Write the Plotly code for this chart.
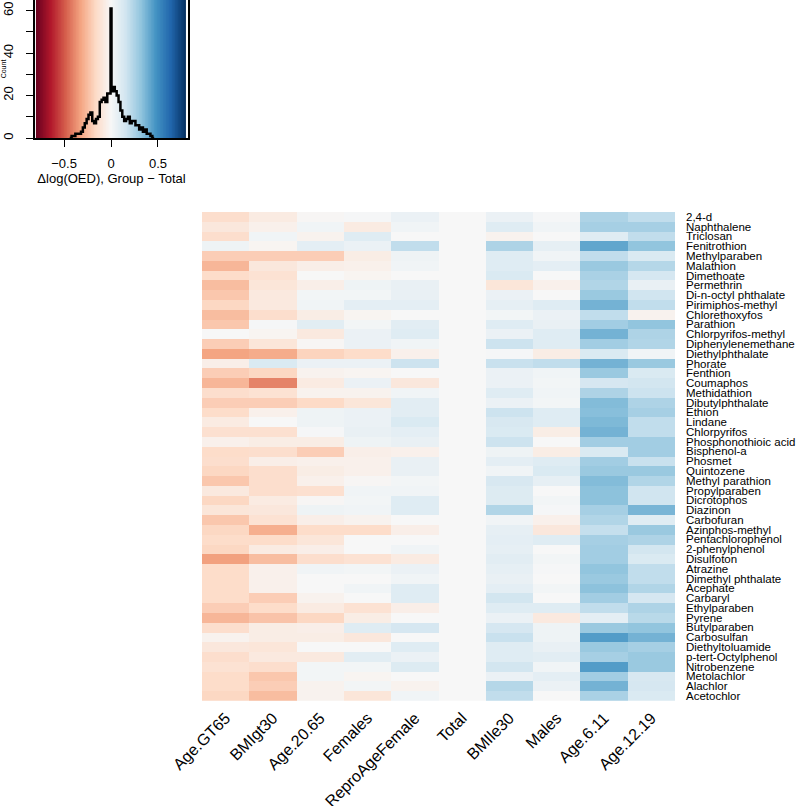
import numpy as np
import plotly.graph_objects as go

groups = ["Age.GT65", "BMIgt30", "Age.20.65", "Females", "ReproAgeFemale",
          "Total", "BMIle30", "Males", "Age.6.11", "Age.12.19"]

chemicals = ["2,4-d", "Naphthalene", "Triclosan", "Fenitrothion", "Methylparaben",
             "Malathion", "Dimethoate", "Permethrin", "Di-n-octyl phthalate",
             "Pirimiphos-methyl", "Chlorethoxyfos", "Parathion", "Chlorpyrifos-methyl",
             "Diphenylenemethane", "Diethylphthalate", "Phorate", "Fenthion", "Coumaphos",
             "Methidathion", "Dibutylphthalate", "Ethion", "Lindane", "Chlorpyrifos",
             "Phosphonothioic acid", "Bisphenol-a", "Phosmet", "Quintozene",
             "Methyl parathion", "Propylparaben", "Dicrotophos", "Diazinon", "Carbofuran",
             "Azinphos-methyl", "Pentachlorophenol", "2-phenylphenol", "Disulfoton",
             "Atrazine", "Dimethyl phthalate", "Acephate", "Carbaryl", "Ethylparaben",
             "Pyrene", "Butylparaben", "Carbosulfan", "Diethyltoluamide",
             "p-tert-Octylphenol", "Nitrobenzene", "Metolachlor", "Alachlor", "Acetochlor"]

age_gt65 = [-0.14, -0.09, -0.14, 0.04, -0.20, -0.27, -0.15, -0.25, -0.22, -0.17,
            -0.25, -0.22, 0.00, -0.20, -0.32, -0.05, -0.20, -0.27, -0.14, -0.20,
            -0.15, -0.07, -0.13, -0.04, -0.15, -0.14, -0.17, -0.22, -0.08, -0.17,
            -0.10, -0.22, -0.17, -0.15, -0.17, -0.33, -0.15, -0.15, -0.15, -0.15,
            -0.20, -0.27, -0.14, -0.03, -0.09, -0.14, -0.12, -0.15, -0.15, -0.17]
bmi_gt30 = [-0.07, -0.04, 0.03, -0.02, -0.20, -0.09, -0.12, -0.10, -0.08, -0.08,
            -0.14, 0.01, -0.02, -0.10, -0.30, 0.12, -0.17, -0.40, -0.12, -0.20,
            -0.04, 0.00, -0.13, -0.06, -0.14, -0.05, -0.14, -0.14, -0.14, -0.07,
            -0.09, -0.12, -0.29, -0.15, -0.07, -0.25, -0.04, -0.04, -0.04, -0.20,
            -0.15, -0.23, -0.06, -0.06, -0.10, -0.08, -0.14, -0.22, -0.20, -0.25]
age_20_65 = [-0.01, 0.03, -0.03, 0.08, -0.20, -0.05, 0.00, -0.05, 0.02, 0.03,
             -0.06, 0.09, -0.08, -0.01, -0.18, 0.05, -0.03, -0.07, -0.03, -0.16,
             0.04, 0.04, 0.01, -0.06, -0.20, -0.04, -0.06, -0.04, -0.13, -0.01,
             0.04, -0.05, -0.15, -0.10, -0.05, -0.14, 0.03, 0.00, 0.00, -0.03,
             -0.07, -0.17, -0.05, -0.06, 0.00, -0.08, 0.02, 0.02, -0.03, -0.03]
females = [0.01, -0.07, 0.10, 0.05, -0.06, -0.04, -0.02, 0.04, 0.02, 0.08,
           -0.02, 0.02, 0.05, 0.05, -0.15, 0.05, -0.02, 0.05, -0.03, -0.10,
           0.05, 0.05, 0.06, 0.04, -0.05, -0.04, -0.04, -0.01, 0.03, 0.02,
           0.03, -0.03, -0.15, 0.00, 0.00, -0.12, 0.02, 0.00, 0.03, 0.00,
           -0.12, -0.06, 0.10, -0.09, 0.00, 0.09, 0.02, -0.02, 0.02, -0.10]
repro_age_female = [0.05, 0.03, 0.00, 0.20, 0.04, 0.03, 0.00, 0.06, 0.06, 0.08,
                    0.00, 0.09, 0.10, 0.03, -0.04, 0.17, 0.00, -0.09, 0.03, 0.09,
                    0.09, 0.12, 0.08, 0.06, -0.04, 0.06, 0.06, 0.02, 0.03, 0.10,
                    0.10, 0.00, -0.05, 0.00, 0.03, -0.07, 0.05, 0.03, 0.10, 0.10,
                    -0.05, 0.00, 0.14, 0.00, 0.10, 0.05, 0.11, 0.00, -0.03, 0.03]
total = [0.0] * 50
bmi_le30 = [0.05, 0.10, -0.03, 0.25, 0.10, 0.10, 0.12, -0.10, 0.05, 0.07,
            0.02, 0.10, 0.05, 0.17, 0.01, 0.18, 0.05, 0.05, 0.10, 0.05,
            0.17, 0.13, 0.12, 0.17, 0.04, 0.08, 0.03, 0.13, 0.11, 0.11,
            0.24, 0.03, 0.07, 0.08, 0.07, 0.09, 0.07, 0.06, 0.08, 0.15,
            0.10, 0.05, 0.14, 0.18, 0.10, 0.10, 0.15, 0.05, 0.23, 0.20]
males = [0.01, 0.03, 0.00, 0.07, 0.03, 0.08, 0.00, -0.04, 0.00, 0.10,
         0.05, 0.06, 0.10, 0.10, -0.06, 0.20, 0.03, 0.02, 0.03, 0.02,
         0.10, 0.10, -0.06, 0.00, -0.06, 0.10, 0.12, 0.07, 0.00, 0.02,
         0.01, -0.04, -0.09, 0.10, 0.00, 0.02, 0.01, 0.00, 0.02, 0.00,
         0.10, -0.08, 0.04, 0.04, 0.06, 0.09, 0.03, 0.08, 0.05, 0.00]
age_6_11 = [0.25, 0.27, 0.10, 0.42, 0.20, 0.30, 0.26, 0.24, 0.30, 0.38,
            0.20, 0.28, 0.38, 0.28, 0.12, 0.38, 0.30, 0.14, 0.25, 0.35,
            0.34, 0.36, 0.38, 0.28, 0.12, 0.28, 0.30, 0.35, 0.33, 0.33,
            0.27, 0.24, 0.19, 0.27, 0.28, 0.28, 0.32, 0.30, 0.33, 0.28,
            0.20, 0.08, 0.30, 0.45, 0.30, 0.27, 0.45, 0.28, 0.38, 0.26]
age_12_19 = [0.20, 0.27, 0.20, 0.32, 0.12, 0.23, 0.14, 0.06, 0.16, 0.20,
             -0.03, 0.32, 0.25, 0.24, 0.03, 0.30, 0.12, 0.15, 0.17, 0.25,
             0.27, 0.20, 0.20, 0.28, 0.28, 0.18, 0.30, 0.24, 0.16, 0.16,
             0.37, 0.10, 0.30, 0.25, 0.15, 0.12, 0.20, 0.20, 0.24, 0.14,
             0.25, 0.22, 0.32, 0.38, 0.27, 0.30, 0.30, 0.13, 0.14, 0.12]

# Histogram in the colour key (step outline)
hist_x = [-0.44, -0.42, -0.40, -0.38, -0.36, -0.34, -0.32, -0.30, -0.28, -0.26,
          -0.24, -0.22, -0.20, -0.18, -0.16, -0.14, -0.12, -0.10, -0.08, -0.06,
          -0.04, -0.02, -0.005, 0.005, 0.02, 0.04, 0.06, 0.08, 0.10, 0.12,
          0.14, 0.16, 0.18, 0.20, 0.22, 0.24, 0.26, 0.28, 0.30, 0.32,
          0.34, 0.36, 0.38, 0.40, 0.42, 0.44, 0.46]
hist_counts = [0, 1, 1, 2, 2, 2, 3, 5, 7, 9,
               11, 12, 8, 7, 9, 10, 17, 18, 19, 17,
               21, 21, 61, 22, 24, 22, 20, 17, 13, 10,
               8, 9, 10, 7, 8, 8, 6, 6, 4, 5,
               3, 4, 2, 2, 1, 0, 0]

key_ticks = [-0.5, 0, 0.5]
key_ticktext = ["\u22120.5", "0", "0.5"]
count_ticks = [0, 10, 20, 30, 40, 50, 60]
count_ticktext = ["0", "", "20", "", "40", "", "60"]

rdbu = ["#67001F", "#B2182B", "#D6604D", "#F4A582", "#FDDBC7", "#F7F7F7",
        "#D1E5F0", "#92C5DE", "#4393C3", "#2166AC", "#053061"]
colorscale = [[i / (len(rdbu) - 1), c] for i, c in enumerate(rdbu)]
zmin, zmax = -0.8, 0.8

columns = [age_gt65, bmi_gt30, age_20_65, females, repro_age_female,
           total, bmi_le30, males, age_6_11, age_12_19]
z = [[col[r] for col in columns] for r in range(len(chemicals))]

FONT = "Liberation Sans, Arial, sans-serif"
W, H = 800, 806

fig = go.Figure()

fig.add_trace(go.Heatmap(
    z=z, x=groups, y=chemicals, colorscale=colorscale, zmin=zmin, zmax=zmax,
    showscale=False, xaxis="x", yaxis="y", hoverongaps=False))

# colour key background
edges = np.linspace(zmin, zmax, 201)
mids = (edges[:-1] + edges[1:]) / 2
fig.add_trace(go.Heatmap(
    z=[list(mids)], x=list(edges), y=[0, 65], colorscale=colorscale,
    zmin=zmin, zmax=zmax, showscale=False, xaxis="x2", yaxis="y2",
    hoverinfo="skip"))

fig.add_trace(go.Scatter(
    x=hist_x, y=hist_counts, mode="lines", line=dict(color="black", width=2.5, shape="hv"),
    xaxis="x2", yaxis="y2", showlegend=False, hoverinfo="skip"))

fig.update_layout(
    width=W, height=H,
    margin=dict(l=0, r=0, t=0, b=0),
    paper_bgcolor="white", plot_bgcolor="white",
    font=dict(family=FONT, color="black"),
    showlegend=False,
    xaxis=dict(domain=[202 / W, 675 / W], anchor="y", tickangle=-45,
               tickmode="array", tickvals=groups, ticktext=groups,
               tickfont=dict(size=16), showgrid=False, zeroline=False,
               showline=False, ticks="", ticklabelstandoff=4, automargin=False),
    yaxis=dict(domain=[1 - 700.7 / H, 1 - 212 / H], anchor="x", side="right",
               autorange="reversed", tickmode="array", tickvals=chemicals,
               ticktext=chemicals, tickfont=dict(size=11.5), showgrid=False,
               zeroline=False, showline=False, ticks="", ticklabelstandoff=10,
               automargin=False),
    xaxis2=dict(domain=[35 / W, 188 / W], anchor="y2", range=[-0.81, 0.82],
                tickvals=key_ticks, ticktext=key_ticktext, ticks="outside",
                ticklen=7, tickwidth=1, tickcolor="black", tickfont=dict(size=13),
                showline=True, linecolor="black", linewidth=1.5, mirror=True,
                showgrid=False, zeroline=False, automargin=False,
                ticklabelstandoff=6,
                title=dict(text="\u0394log(OED), Group \u2212 Total",
                           font=dict(size=13), standoff=4)),
    yaxis2=dict(domain=[1 - 138 / H, 1], anchor="x2", range=[0, 65],
                tickvals=count_ticks, ticktext=count_ticktext, ticks="outside",
                ticklen=7, tickwidth=1, tickcolor="black", tickangle=-90,
                tickfont=dict(size=13), showline=True, linecolor="black",
                linewidth=1.5, mirror=True, showgrid=False, zeroline=False,
                automargin=False, ticklabelstandoff=8,
                title=dict(text="Count", font=dict(size=7), standoff=0)),
)

fig.write_html("out.html", config={"displayModeBar": False},
               post_script="document.body.style.margin='0';document.body.style.padding='0';")
